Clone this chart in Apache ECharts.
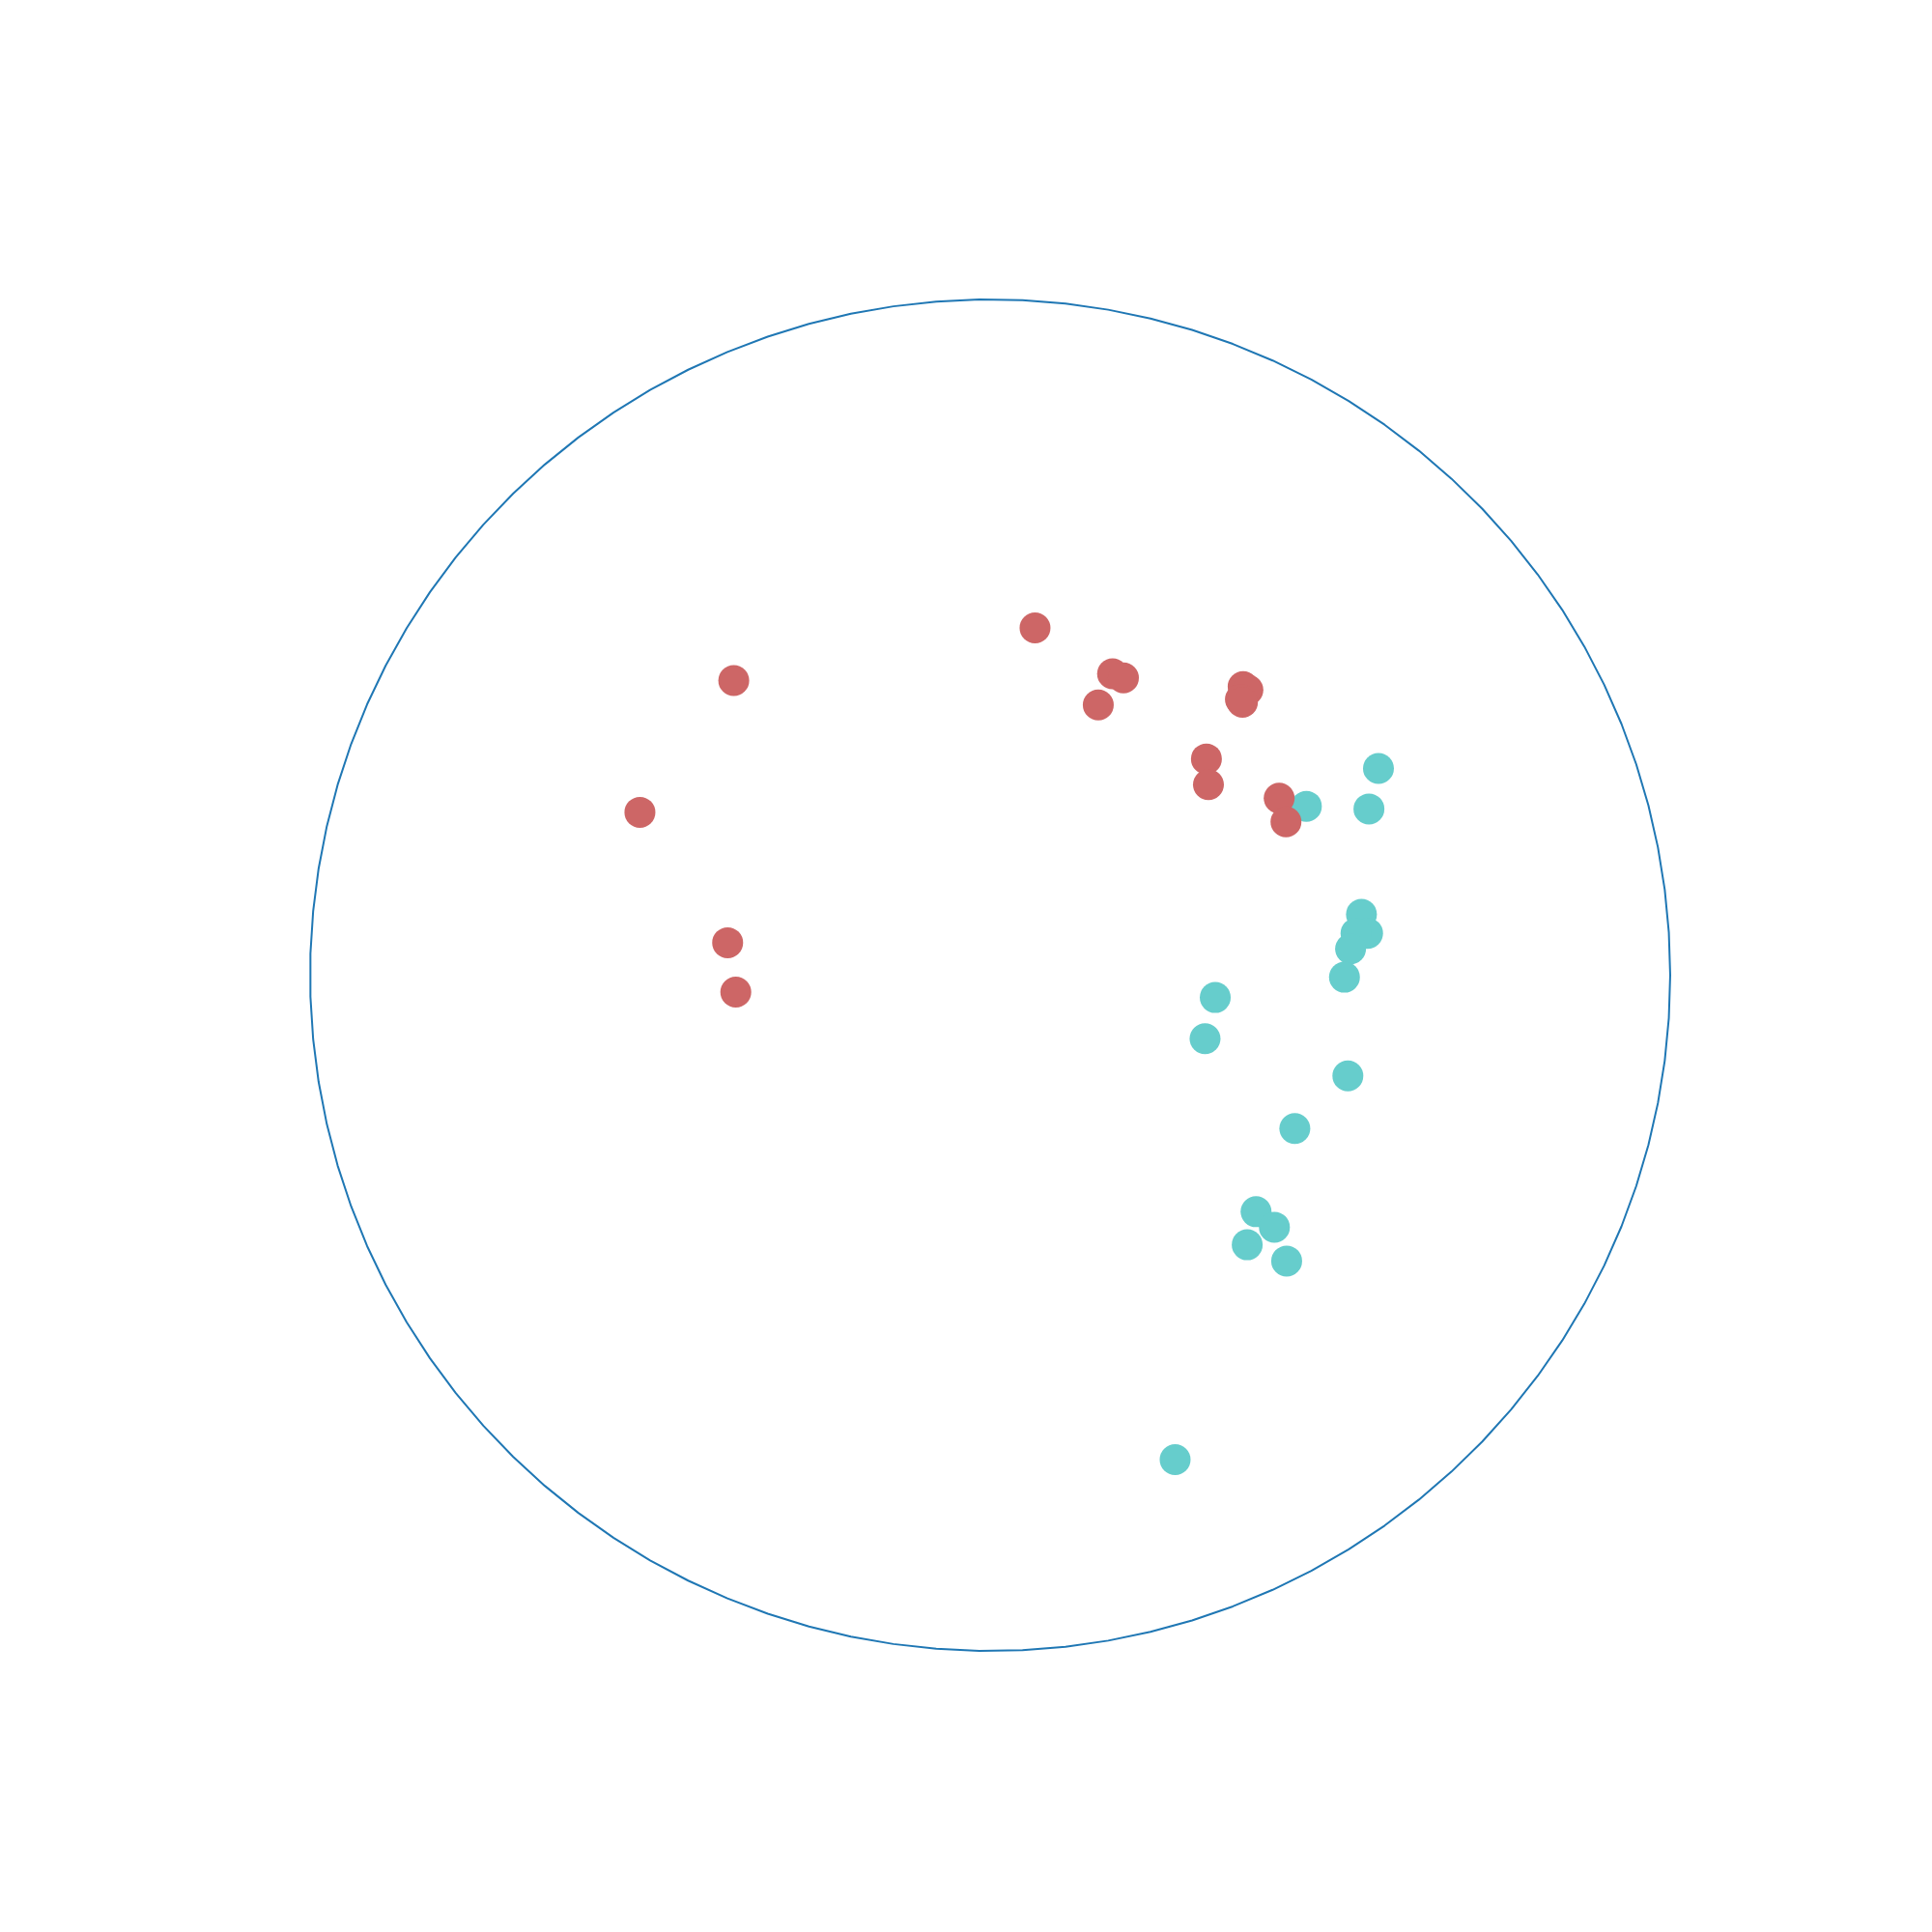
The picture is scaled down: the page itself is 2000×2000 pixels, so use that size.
<!DOCTYPE html>
<html>
<head>
<meta charset="utf-8">
<script src="https://cdn.jsdelivr.net/npm/echarts@6/dist/echarts.min.js"></script>
<style>
  html, body { margin: 0; padding: 0; background: #fff; }
  #chart { width: 2000px; height: 2000px; }
</style>
</head>
<body>
<div id="chart"></div>
<script>
// point positions, in unit-circle coordinates [x, y]
const cyanPoints = [
  [0.465, 0.250], [0.571, 0.306], [0.557, 0.246],
  [0.546, 0.090], [0.555, 0.062], [0.538, 0.062], [0.530, 0.039], [0.521, -0.003],
  [0.331, -0.033], [0.316, -0.094], [0.526, -0.149], [0.448, -0.227],
  [0.391, -0.350], [0.418, -0.373], [0.378, -0.399], [0.436, -0.423],
  [0.272, -0.717]
]

const redPoints = [
  [0.066, 0.514], [0.180, 0.446], [0.196, 0.440], [0.159, 0.400],
  [0.372, 0.427], [0.379, 0.422], [0.368, 0.408], [0.371, 0.404],
  [0.318, 0.320], [0.321, 0.282], [0.425, 0.262], [0.435, 0.227],
  [-0.377, 0.436], [-0.515, 0.241], [-0.386, 0.048], [-0.374, -0.025]
]

// outline of the unit circle, 100 vertices like the original
const outlineSteps = 100
const outline = []
for (let i = 0; i < outlineSteps; i++) {
  const t = (2 * Math.PI * i) / (outlineSteps - 1)
  outline.push([Math.cos(t), Math.sin(t)])
}

const chart = echarts.init(document.getElementById('chart'), null, { renderer: 'canvas' })

chart.setOption({
  animation: false,
  backgroundColor: '#ffffff',
  grid: { left: 321, right: 271, top: 310, bottom: 291 },
  xAxis: { type: 'value', min: -1, max: 1, show: false },
  yAxis: { type: 'value', min: -1, max: 1, show: false },
  series: [
    {
      type: 'line',
      data: outline,
      showSymbol: false,
      silent: true,
      lineStyle: { color: '#1f77b4', width: 2 }
    },
    {
      type: 'scatter',
      data: cyanPoints,
      symbolSize: 32,
      itemStyle: { color: '#66cdcc', opacity: 1 }
    },
    {
      type: 'scatter',
      data: redPoints,
      symbolSize: 32,
      itemStyle: { color: '#cd6666', opacity: 1 }
    }
  ]
})
</script>
</body>
</html>
